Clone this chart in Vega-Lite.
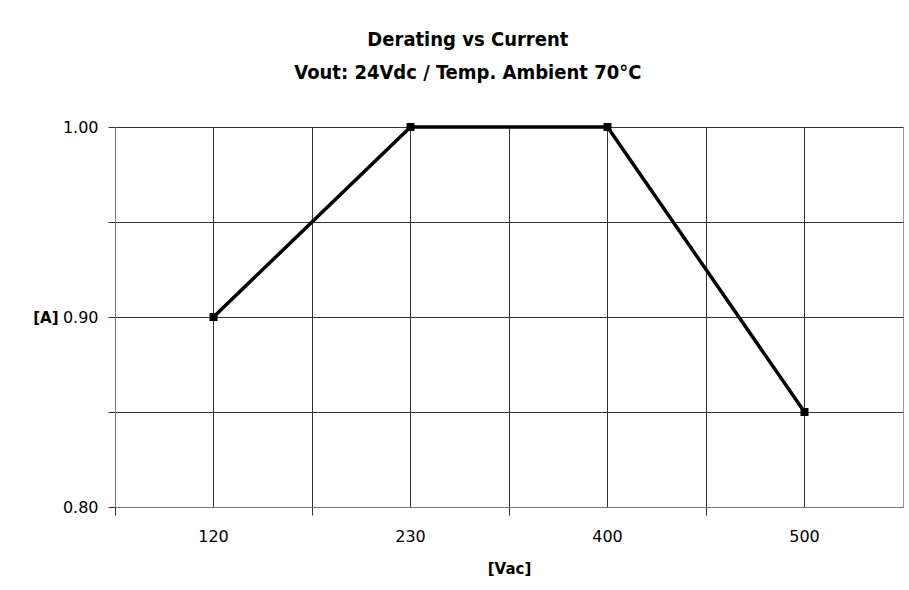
{
  "$schema": "https://vega.github.io/schema/vega-lite/v6.json",
  "autosize": "none",
  "padding": {"left": 115, "top": 127, "right": 6, "bottom": 83},
  "width": 788,
  "height": 380,
  "background": "white",
  "title": {
    "text": ["Derating vs Current", "Vout: 24Vdc / Temp. Ambient 70°C"],
    "font": "DejaVu Sans Condensed",
    "fontSize": 20,
    "fontWeight": "bold",
    "color": "#000000",
    "lineHeight": 33,
    "offset": 36,
    "anchor": "middle",
    "frame": "bounds"
  },
  "config": {
    "view": {"stroke": "#999999", "strokeWidth": 1},
    "axis": {
      "labelFont": "DejaVu Sans",
      "titleFont": "DejaVu Sans",
      "labelFontSize": 16,
      "titleFontSize": 15,
      "labelColor": "#000000",
      "titleColor": "#000000",
      "gridColor": "#333333",
      "gridOpacity": 1,
      "gridWidth": 1,
      "tickColor": "#333333",
      "domainColor": "#777777"
    }
  },
  "data": {
    "values": [
      {"Vac": "120", "A": 0.90},
      {"Vac": "230", "A": 1.00},
      {"Vac": "400", "A": 1.00},
      {"Vac": "500", "A": 0.85}
    ]
  },
  "encoding": {
    "x": {
      "field": "Vac",
      "type": "ordinal",
      "sort": null,
      "scale": {"type": "band", "paddingInner": 0, "paddingOuter": 0}
    },
    "y": {
      "field": "A",
      "type": "quantitative",
      "scale": {"domain": [0.8, 1.0], "zero": false, "nice": false},
      "axis": {
        "values": [0.8, 0.85, 0.9, 0.95, 1.0],
        "labelExpr": "(round(datum.value*100) % 10 == 0) ? format(datum.value, '.2f') : ''",
        "grid": true,
        "ticks": true,
        "tickSize": 7,
        "labelPadding": 10,
        "title": "[A]",
        "titleAngle": 0,
        "titleAlign": "right",
        "titleBaseline": "middle",
        "titleX": -57,
        "titleY": 190,
        "titleFontWeight": "bold"
      }
    }
  },
  "layer": [
    {
      "mark": {"type": "line", "color": "#000000", "strokeWidth": 3.5},
      "encoding": {
        "x": {
          "field": "Vac",
          "type": "ordinal",
          "sort": null,
          "axis": {
            "orient": "bottom",
            "bandPosition": 0.5,
            "grid": true,
            "ticks": false,
            "domain": true,
            "labelAngle": 0,
            "labelPadding": 21,
            "title": "[Vac]",
            "titleFontWeight": "bold",
            "titlePadding": 17
          }
        }
      }
    },
    {
      "mark": {"type": "square", "color": "#000000", "filled": true, "opacity": 1, "size": 64},
      "encoding": {
        "x": {
          "field": "Vac",
          "type": "ordinal",
          "sort": null,
          "axis": {
            "orient": "bottom",
            "bandPosition": 0,
            "grid": true,
            "ticks": true,
            "tickSize": 8,
            "labels": false,
            "domain": false,
            "title": null
          }
        }
      }
    }
  ],
  "resolve": {"axis": {"x": "independent"}}
}
